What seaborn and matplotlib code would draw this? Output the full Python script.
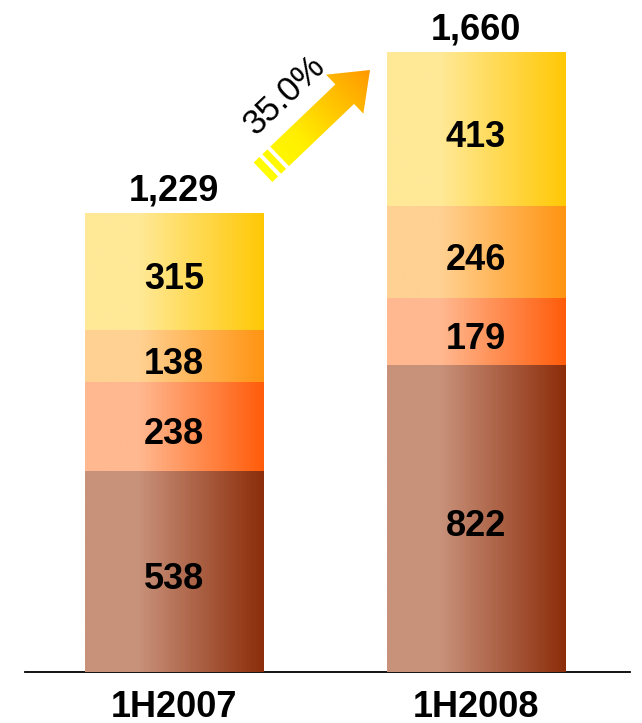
import numpy as np
import pandas as pd
import matplotlib
matplotlib.use("Agg")
import matplotlib.pyplot as plt
import seaborn as sns
from matplotlib.colors import LinearSegmentedColormap
from matplotlib.patches import PathPatch
from matplotlib.path import Path

# ---------------- data ----------------
categories = ["1H2007", "1H2008"]
seg_bottom = [538, 822]
seg_second = [238, 179]
seg_third = [138, 246]
seg_top = [315, 413]
totals = [1229, 1660]
growth_label = "35.0%"

layers = [seg_bottom, seg_second, seg_third, seg_top]
gradients = [("#c8917a", "#8c2d0a"),
             ("#ffb890", "#ff5c0a"),
             ("#ffd192", "#ff9412"),
             ("#ffe997", "#ffc805")]

sns.set_theme(style="white")
plt.rcParams["font.family"] = ["Liberation Sans", "DejaVu Sans"]

W, H = 642, 723
fig = plt.figure(figsize=(W / 100, H / 100), dpi=100)
fig.patch.set_facecolor("white")
ax = fig.add_axes([25 / W, 51 / H, 605 / W, 672 / H])

cum = np.cumsum(np.array(layers), axis=0)
n = len(layers)
for i in range(n - 1, -1, -1):
    df = pd.DataFrame({"cat": categories, "val": cum[i]})
    n_before = len(ax.patches)
    sns.barplot(data=df, x="cat", y="val", ax=ax, width=0.59, color="white",
                linewidth=0, saturation=1, errorbar=None)
    new = ax.patches[n_before:]
    c0, c1 = gradients[i]
    cmap = LinearSegmentedColormap.from_list(f"g{i}", [(0, c0), (0.3, c0), (1, c1)])
    for p in new:
        x0, w, h = p.get_x(), p.get_width(), p.get_height()
        im = ax.imshow(np.linspace(0, 1, 256)[None, :], cmap=cmap, aspect="auto",
                       extent=(x0, x0 + w, 0, h), zorder=2 + (n - i),
                       interpolation="bilinear")
        im.set_clip_path(p)
        p.set_facecolor("none")

# segment labels
for i, seg in enumerate(layers):
    for j, v in enumerate(seg):
        ax.annotate(f"{v}", (j, cum[i][j] - v / 2), xytext=(0, -6),
                    textcoords="offset points", ha="center", va="center",
                    fontsize=26, fontweight="bold", color="black", zorder=20)

# totals
for j, t in enumerate(totals):
    ax.annotate(f"{t:,}", (j, t), xytext=(0, 9), textcoords="offset points",
                ha="center", va="baseline", fontsize=26, fontweight="bold",
                color="black", zorder=20)

ax.set_xlim(-149 / 302, 1 + 154 / 302)
ax.set_ylim(0, 672 / 0.3737)
ax.set_xlabel("")
ax.set_ylabel("")
ax.set_yticks([])
for s in ["left", "top", "right"]:
    ax.spines[s].set_visible(False)
ax.spines["bottom"].set_color("black")
ax.spines["bottom"].set_linewidth(1.3)
ax.tick_params(axis="x", length=0, pad=13, labelsize=26, labelcolor="black")
for lab in ax.get_xticklabels():
    lab.set_fontweight("bold")
ax.set_facecolor("white")

# ---------------- growth arrow (overlay in pixel coords) ----------------
ov = fig.add_axes([0, 0, 1, 1], zorder=5)
ov.set_xlim(0, W)
ov.set_ylim(H, 0)
ov.axis("off")

ang = np.deg2rad(43.7)
u = np.array([np.cos(ang), -np.sin(ang)])
nv = np.array([np.sin(ang), np.cos(ang)])
T = np.array([370.0, 70.0])
B = T - 35 * u
S = B - 90 * u
hs, hh = 13.5, 27.0
arrow = [S + hs * nv, B + hs * nv, B + hh * nv, T, B - hh * nv, B - hs * nv, S - hs * nv]
stripes = []
for a, b in [(4, 11), (15, 23)]:
    p1, p2 = S - a * u, S - b * u
    stripes.append([p1 + hs * nv, p1 - hs * nv, p2 - hs * nv, p2 + hs * nv])

polys = [arrow] + stripes
paths = [Path(np.vstack([np.array(pl), np.array(pl)[:1]]), closed=True) for pl in polys]
compound = Path.make_compound_path(*paths)
pp = PathPatch(compound, facecolor="none", edgecolor="none", transform=ov.transData)
ov.add_patch(pp)

x0, x1, y0, y1 = 235, 385, 45, 200
xs = np.linspace(x0, x1, 300)
ys = np.linspace(y0, y1, 300)
XX, YY = np.meshgrid(xs, ys)
proj = (XX - (S[0] - 25 * u[0])) * u[0] + (YY - (S[1] - 25 * u[1])) * u[1]
proj = np.clip(proj / 150.0, 0, 1)
acmap = LinearSegmentedColormap.from_list("arr", [(0, "#ffff00"), (0.35, "#ffee00"), (1, "#ff9900")])
aim = ov.imshow(proj, cmap=acmap, origin="upper", extent=(x0, x1, y1, y0),
                aspect="auto", interpolation="bilinear", vmin=0, vmax=1)
aim.set_clip_path(pp)
ov.set_xlim(0, W)
ov.set_ylim(H, 0)

ov.text(285, 95, growth_label, rotation=43.7, rotation_mode="anchor",
        ha="center", va="center", fontsize=25, color="black")

fig.savefig("out.png", dpi=100, facecolor="white")
